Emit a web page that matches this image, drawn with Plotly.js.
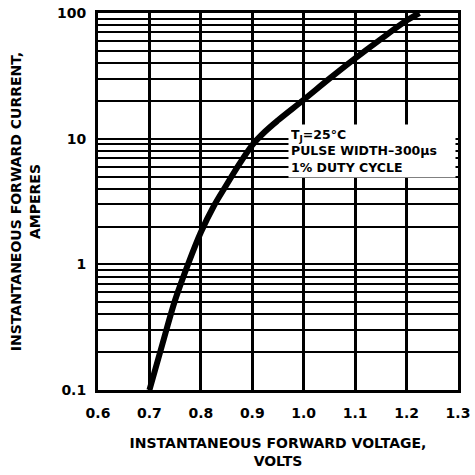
<!DOCTYPE html>
<html>
<head>
<meta charset="utf-8">
<script src="https://cdn.plot.ly/plotly-3.0.1.min.js"></script>
<style>html,body{margin:0;padding:0;background:#fff;}#chart{width:475px;height:475px;}</style>
</head>
<body>
<div id="chart"></div>
<script>
// Forward voltage (V) and forward current (A)
const voltage = [0.70, 0.725, 0.75, 0.775, 0.80, 0.825, 0.85, 0.875, 0.90, 0.925, 0.95, 1.00, 1.05, 1.10, 1.15, 1.20, 1.225];
const current = [0.10, 0.23, 0.52, 1.0, 1.8, 2.9, 4.3, 6.3, 8.9, 11.4, 14, 20.4, 30, 43.5, 62, 87, 100];

const xTickVals = [0.6, 0.7, 0.8, 0.9, 1.0, 1.1, 1.2, 1.3];
const xTickText = ['0.6', '0.7', '0.8', '0.9', '1.0', '1.1', '1.2', '1.3'];

const yTickVals = [0.1, 0.2, 0.3, 0.4, 0.5, 0.6, 0.7, 0.8, 0.9,
                   1, 2, 3, 4, 5, 6, 7, 8, 9,
                   10, 20, 30, 40, 50, 60, 70, 80, 90, 100];
const yTickText = ['0.1', '', '', '', '', '', '', '', '',
                   '1', '', '', '', '', '', '', '', '',
                   '10', '', '', '', '', '', '', '', '', '100'];

const fontFam = '"DejaVu Sans", "Liberation Sans", Arial, sans-serif';

const trace = {
  x: voltage,
  y: current,
  type: 'scatter',
  mode: 'lines',
  line: {color: '#000', width: 6, shape: 'spline', smoothing: 1},
  hoverinfo: 'skip'
};

const layout = {
  width: 475,
  height: 475,
  margin: {l: 98, r: 17, t: 13, b: 85},
  paper_bgcolor: '#fff',
  plot_bgcolor: '#fff',
  showlegend: false,
  font: {family: fontFam, color: '#000', size: 14, weight: 700},
  xaxis: {
    range: [0.6, 1.3],
    tickvals: xTickVals,
    ticktext: xTickText,
    ticks: '',
    ticklabelstandoff: 8,
    tickfont: {family: fontFam, size: 14, weight: 700, color: '#000'},
    showgrid: true,
    gridcolor: '#000',
    gridwidth: 3,
    showline: true,
    mirror: true,
    linecolor: '#000',
    linewidth: 3,
    zeroline: false,
    title: {
      text: 'INSTANTANEOUS FORWARD VOLTAGE,<br>VOLTS',
      font: {family: fontFam, size: 14, weight: 700, color: '#000'},
      standoff: 19
    }
  },
  yaxis: {
    type: 'log',
    range: [-1, 2],
    tickvals: yTickVals,
    ticktext: yTickText,
    ticks: '',
    ticklabelstandoff: 6,
    tickfont: {family: fontFam, size: 14, weight: 700, color: '#000'},
    showgrid: true,
    gridcolor: '#000',
    gridwidth: 2,
    showline: true,
    mirror: true,
    linecolor: '#000',
    linewidth: 3,
    zeroline: false,
    title: {
      text: 'INSTANTANEOUS FORWARD CURRENT,<br>AMPERES',
      font: {family: fontFam, size: 14, weight: 700, color: '#000'},
      standoff: 14
    }
  },
  annotations: [{
    xref: 'x', yref: 'paper',
    x: 0.97, y: 0.633,
    xanchor: 'left', yanchor: 'middle',
    align: 'left',
    width: 162,
    showarrow: false,
    text: 'T<sub>J</sub>=25°C<br>PULSE WIDTH–300μs<br>1% DUTY CYCLE',
    font: {family: fontFam, size: 12.5, weight: 700, color: '#000'},
    bgcolor: '#fff',
    borderpad: 2
  }]
};

Plotly.newPlot('chart', [trace], layout, {displayModeBar: false, staticPlot: true});
</script>
</body>
</html>
